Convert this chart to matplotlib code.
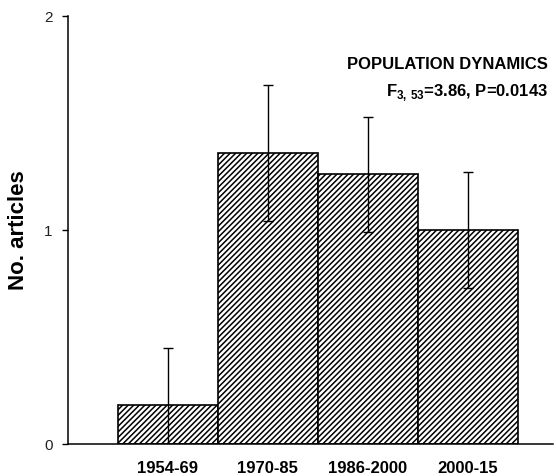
import numpy as np
import matplotlib
matplotlib.use('Agg')
import matplotlib.pyplot as plt

plt.rcParams['font.family'] = ['Liberation Sans', 'DejaVu Sans']
plt.rcParams['mathtext.fontset'] = 'custom'
plt.rcParams['mathtext.rm'] = 'Liberation Sans'
plt.rcParams['mathtext.bf'] = 'Liberation Sans:bold'
plt.rcParams['hatch.linewidth'] = 1.1

# data
periods = ['1954-69', '1970-85', '1986-2000', '2000-15']
mean_articles = [0.18, 1.36, 1.26, 1.00]
err_articles = [0.27, 0.32, 0.27, 0.27]

fig = plt.figure(figsize=(5.56, 4.76), dpi=100)
ax = fig.add_axes([0.1223, 0.0672, 0.872, 0.899])

x = np.arange(len(periods))
ax.bar(x, mean_articles, width=1.0, color='white', edgecolor='black',
       linewidth=1.2, hatch='//////', zorder=2)
ax.errorbar(x, mean_articles, yerr=err_articles, fmt='none', ecolor='black',
            elinewidth=1.0, capsize=3.3, capthick=1.0, zorder=3)

ax.set_xlim(-1.0, 3.85)
ax.set_ylim(0, 2)
ax.set_yticks([0, 1, 2])
ax.set_yticklabels(['0', '1', '2'], fontsize=11, color='#222222')
ax.set_xticks(x)
ax.set_xticklabels(periods, fontsize=12, fontweight='bold')
ax.tick_params(axis='x', length=0, pad=12)
ax.tick_params(axis='y', length=4, width=1, direction='out', pad=7)
ax.spines['top'].set_visible(False)
ax.spines['right'].set_visible(False)
ax.spines['left'].set_linewidth(1.1)
ax.spines['bottom'].set_linewidth(1.1)
ax.set_ylabel('No. articles', fontsize=16, fontweight='bold', labelpad=11)

ax.text(0.99, 0.888, 'POPULATION DYNAMICS', transform=ax.transAxes,
        ha='right', va='center', fontsize=12, fontweight='bold')
ax.text(0.99, 0.822, r'F$_\mathbf{3,\,53}$=3.86, P=0.0143', transform=ax.transAxes,
        ha='right', va='center', fontsize=12, fontweight='bold')

fig.savefig('out.png', dpi=100)
